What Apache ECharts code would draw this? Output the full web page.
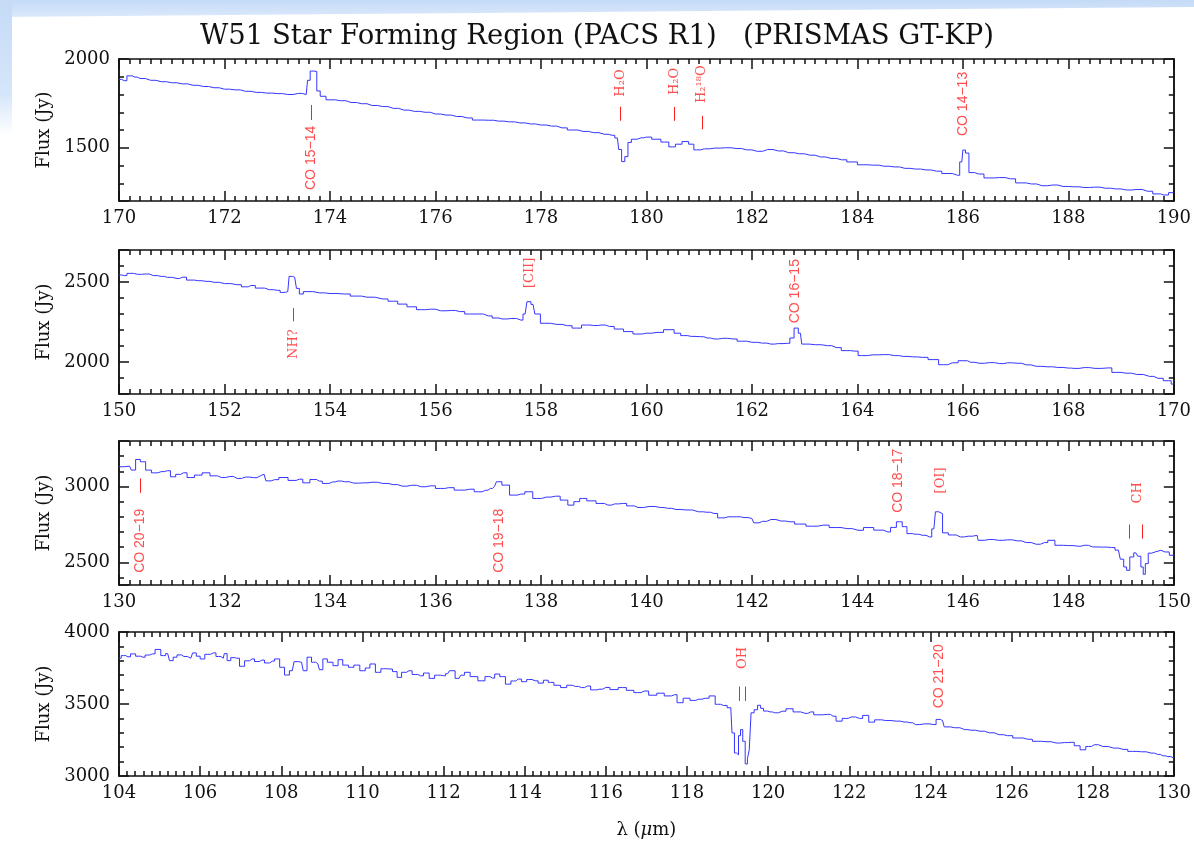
<!DOCTYPE html>
<html><head><meta charset="utf-8">
<script src="https://cdn.jsdelivr.net/npm/echarts@6/dist/echarts.min.js"></script>
<style>
html,body{margin:0;padding:0;background:#fff;}
#wrap{position:relative;width:1194px;height:849px;overflow:hidden;background:#fff;}
#topband{position:absolute;left:0;top:0;width:1194px;height:17px;background:linear-gradient(to bottom,#c4daf6,#dbe9fb);clip-path:polygon(0 0,100% 0,100% 7px,0 17px);}
#leftband{position:absolute;left:0;top:0;width:12px;height:135px;background:linear-gradient(to bottom,#c4daf6 0%,#d6e6fa 70%,rgba(255,255,255,0) 100%);}
#chart{position:absolute;left:0;top:0;width:1194px;height:849px;}
</style></head><body>
<div id="wrap"><div id="topband"></div><div id="leftband"></div><div id="chart"></div></div>
<script>
// ---------------- DATA ----------------
const titleText = 'W51 Star Forming Region (PACS R1)   (PRISMAS GT-KP)';
const yName = 'Flux (Jy)';
const xName = 'λ ({i|μ}m)';

// Panel 1: 170-190 um
const spec1 = [[170.0,1885],[170.1,1878],[170.2,1905],[170.3,1898],[170.4,1890],[170.6,1880],[170.8,1872],[171.0,1866],[171.2,1860],[171.4,1852],[171.6,1845],[171.8,1838],[172.0,1830],[172.2,1826],[172.4,1818],[172.6,1812],[172.8,1808],[173.0,1805],[173.2,1800],[173.4,1806],[173.55,1800],[173.6,1880],[173.65,1932],[173.72,1930],[173.78,1820],[173.85,1790],[174.0,1770],[174.2,1765],[174.4,1755],[174.6,1748],[174.8,1738],[175.0,1732],[175.2,1722],[175.4,1712],[175.6,1705],[175.8,1700],[176.0,1690],[176.2,1684],[176.4,1676],[176.6,1668],[176.8,1656],[177.0,1655],[177.2,1650],[177.4,1646],[177.6,1640],[177.8,1634],[178.0,1628],[178.2,1622],[178.4,1612],[178.6,1600],[178.8,1592],[179.0,1585],[179.2,1576],[179.35,1570],[179.45,1555],[179.5,1490],[179.56,1422],[179.62,1450],[179.68,1530],[179.75,1548],[179.9,1556],[180.0,1560],[180.2,1548],[180.35,1532],[180.5,1505],[180.6,1520],[180.75,1535],[180.85,1520],[180.95,1488],[181.1,1494],[181.3,1498],[181.5,1500],[181.7,1496],[181.9,1488],[182.1,1480],[182.3,1490],[182.5,1482],[182.7,1472],[182.9,1466],[183.1,1458],[183.3,1448],[183.5,1440],[183.7,1432],[183.9,1420],[184.1,1404],[184.3,1402],[184.5,1396],[184.7,1392],[184.9,1384],[185.1,1380],[185.3,1375],[185.5,1368],[185.7,1355],[185.9,1345],[185.98,1420],[186.02,1487],[186.08,1470],[186.15,1360],[186.3,1352],[186.5,1330],[186.7,1332],[186.9,1325],[187.1,1302],[187.3,1296],[187.5,1286],[187.7,1290],[187.9,1282],[188.1,1280],[188.3,1276],[188.5,1278],[188.7,1272],[188.9,1268],[189.1,1262],[189.3,1265],[189.5,1255],[189.7,1240],[189.8,1234],[190.0,1247]];

// Panel 2: 150-170 um
const spec2 = [[150.0,2544],[150.1,2540],[150.2,2554],[150.35,2548],[150.5,2550],[150.65,2540],[150.8,2535],[150.92,2529],[151.1,2522],[151.2,2530],[151.36,2512],[151.5,2508],[151.65,2504],[151.8,2498],[152.0,2490],[152.24,2483],[152.4,2470],[152.5,2478],[152.67,2462],[152.85,2452],[153.0,2448],[153.11,2435],[153.2,2440],[153.25,2535],[153.33,2530],[153.4,2460],[153.44,2425],[153.55,2440],[153.8,2432],[154.0,2428],[154.27,2425],[154.5,2412],[154.7,2405],[155.0,2394],[155.2,2380],[155.37,2362],[155.55,2345],[155.73,2327],[155.9,2330],[156.1,2320],[156.3,2322],[156.46,2315],[156.65,2300],[156.82,2300],[157.0,2288],[157.15,2275],[157.26,2269],[157.45,2272],[157.62,2262],[157.7,2300],[157.77,2377],[157.85,2360],[157.92,2300],[158.06,2242],[158.3,2235],[158.5,2227],[158.68,2212],[158.86,2231],[159.0,2228],[159.14,2231],[159.3,2222],[159.48,2206],[159.65,2190],[159.84,2175],[160.0,2180],[160.2,2185],[160.45,2202],[160.6,2180],[160.7,2165],[160.85,2160],[161.03,2158],[161.15,2150],[161.28,2144],[161.45,2148],[161.64,2144],[161.8,2130],[162.0,2123],[162.2,2118],[162.36,2112],[162.5,2115],[162.68,2117],[162.76,2150],[162.84,2212],[162.92,2180],[162.97,2112],[163.2,2108],[163.43,2102],[163.6,2090],[163.79,2071],[163.95,2068],[164.08,2040],[164.3,2045],[164.51,2046],[164.7,2040],[164.87,2035],[165.05,2032],[165.23,2029],[165.45,2015],[165.63,1983],[165.8,1995],[166.02,2008],[166.15,1998],[166.31,1992],[166.5,1996],[166.7,1990],[166.85,1995],[167.03,1992],[167.2,1982],[167.39,1973],[167.6,1970],[167.8,1966],[168.0,1962],[168.11,1960],[168.3,1965],[168.5,1960],[168.75,1963],[168.9,1935],[169.1,1930],[169.3,1922],[169.54,1910],[169.7,1898],[169.9,1883],[170.0,1862]];

// Panel 3: 130-150 um
const spec3 = [[130.0,3130],[130.2,3134],[130.27,3108],[130.36,3178],[130.45,3163],[130.56,3108],[130.67,3090],[130.8,3098],[130.92,3104],[131.03,3064],[131.12,3080],[131.22,3090],[131.36,3059],[131.5,3075],[131.65,3090],[131.8,3070],[131.94,3059],[132.1,3066],[132.24,3053],[132.4,3062],[132.55,3058],[132.68,3070],[132.75,3081],[132.82,3037],[132.95,3045],[133.11,3059],[133.3,3040],[133.42,3048],[133.55,3024],[133.69,3046],[133.8,3035],[133.91,3020],[134.05,3030],[134.15,3036],[134.28,3031],[134.45,3022],[134.64,3024],[134.8,3028],[135.0,3020],[135.2,3012],[135.37,3002],[135.55,3008],[135.73,2998],[135.9,3004],[136.1,2987],[136.25,2992],[136.46,2976],[136.65,2982],[136.82,2965],[136.95,2975],[137.04,2987],[137.12,3000],[137.19,3031],[137.33,3009],[137.48,2943],[137.62,2950],[137.77,2965],[137.92,2921],[138.1,2930],[138.28,2936],[138.45,2910],[138.57,2877],[138.68,2900],[138.79,2921],[138.95,2905],[139.14,2888],[139.27,2877],[139.4,2885],[139.55,2888],[139.7,2872],[139.84,2861],[140.05,2868],[140.27,2861],[140.4,2856],[140.56,2848],[140.75,2845],[140.99,2833],[141.15,2830],[141.28,2822],[141.42,2793],[141.55,2800],[141.71,2800],[141.85,2795],[142.0,2789],[142.07,2760],[142.2,2770],[142.36,2782],[142.55,2772],[142.72,2767],[142.9,2752],[143.15,2738],[143.35,2745],[143.58,2729],[143.8,2722],[144.01,2711],[144.22,2729],[144.4,2712],[144.58,2700],[144.68,2730],[144.8,2767],[144.9,2735],[144.98,2689],[145.1,2685],[145.23,2678],[145.37,2667],[145.45,2720],[145.51,2833],[145.58,2820],[145.65,2694],[145.8,2680],[145.95,2667],[146.1,2672],[146.27,2678],[146.31,2645],[146.5,2650],[146.67,2645],[146.85,2648],[147.03,2641],[147.2,2630],[147.39,2619],[147.55,2630],[147.67,2645],[147.82,2612],[148.0,2610],[148.18,2606],[148.3,2612],[148.46,2601],[148.65,2600],[148.82,2597],[148.95,2580],[149.02,2520],[149.08,2469],[149.13,2447],[149.2,2535],[149.28,2562],[149.35,2540],[149.4,2469],[149.44,2421],[149.48,2491],[149.55,2560],[149.61,2568],[149.68,2579],[149.83,2568],[150.0,2546]];

// Panel 4: 104-130 um
const spec4 = [[104.0,3818],[104.11,3836],[104.22,3828],[104.35,3848],[104.47,3832],[104.59,3825],[104.7,3840],[104.82,3848],[104.96,3879],[105.1,3836],[105.2,3850],[105.29,3801],[105.38,3825],[105.48,3841],[105.6,3830],[105.77,3818],[105.86,3855],[105.95,3832],[106.05,3813],[106.18,3845],[106.33,3855],[106.45,3830],[106.57,3818],[106.62,3850],[106.71,3801],[106.8,3822],[106.9,3818],[107.04,3762],[107.15,3800],[107.28,3813],[107.4,3795],[107.52,3805],[107.65,3785],[107.78,3798],[107.89,3813],[108.03,3755],[108.13,3701],[108.27,3731],[108.36,3794],[108.5,3790],[108.58,3731],[108.69,3825],[108.8,3790],[108.9,3780],[108.98,3738],[109.07,3813],[109.2,3790],[109.35,3766],[109.45,3808],[109.58,3770],[109.73,3755],[109.85,3770],[110.02,3731],[110.12,3750],[110.25,3778],[110.39,3720],[110.52,3745],[110.68,3743],[110.8,3725],[110.91,3685],[111.02,3720],[111.15,3731],[111.3,3705],[111.43,3696],[111.58,3715],[111.71,3678],[111.85,3700],[112.0,3696],[112.1,3710],[112.19,3731],[112.38,3678],[112.47,3700],[112.56,3720],[112.75,3690],[112.94,3661],[113.1,3690],[113.2,3680],[113.32,3708],[113.45,3690],[113.6,3638],[113.72,3660],[113.84,3673],[114.0,3655],[114.1,3670],[114.26,3661],[114.4,3645],[114.52,3665],[114.64,3650],[114.8,3630],[114.97,3614],[115.1,3630],[115.25,3622],[115.4,3614],[115.55,3625],[115.7,3598],[115.85,3603],[116.0,3615],[116.2,3600],[116.41,3614],[116.6,3595],[116.78,3579],[116.95,3590],[117.16,3561],[117.35,3575],[117.53,3556],[117.7,3565],[117.81,3509],[118.0,3540],[118.15,3525],[118.28,3533],[118.45,3540],[118.64,3556],[118.75,3498],[118.9,3490],[119.08,3474],[119.14,3299],[119.2,3160],[119.24,3147],[119.3,3280],[119.34,3322],[119.41,3241],[119.46,3084],[119.52,3120],[119.55,3182],[119.61,3439],[119.7,3460],[119.78,3491],[119.85,3470],[119.92,3451],[120.05,3445],[120.16,3439],[120.35,3450],[120.53,3467],[120.7,3445],[120.91,3435],[121.05,3445],[121.2,3425],[121.47,3428],[121.6,3415],[121.75,3381],[121.9,3400],[122.05,3410],[122.25,3400],[122.41,3421],[122.55,3374],[122.7,3390],[122.9,3385],[123.16,3381],[123.35,3375],[123.5,3370],[123.63,3357],[123.85,3362],[124.09,3357],[124.19,3393],[124.3,3385],[124.38,3341],[124.6,3335],[124.85,3322],[125.0,3318],[125.22,3311],[125.45,3300],[125.69,3287],[125.9,3280],[126.16,3264],[126.4,3255],[126.63,3241],[126.85,3238],[127.1,3229],[127.3,3232],[127.47,3234],[127.62,3210],[127.76,3182],[127.9,3205],[128.04,3217],[128.25,3205],[128.51,3194],[128.75,3185],[128.98,3171],[129.2,3168],[129.44,3159],[129.6,3150],[129.73,3140],[129.85,3135],[130.0,3124]];

// axis ranges and tick steps
const xRange1 = [170, 190], yRange1 = [1200, 2000];
const xRange2 = [150, 170], yRange2 = [1800, 2700];
const xRange3 = [130, 150], yRange3 = [2350, 3300];
const xRange4 = [104, 130], yRange4 = [3000, 4000];
const xMajorStep = 2, xMinorStep = 0.2;
const yMajorStep = 500, yMinorStep = 100;

// line identifications: [text, wavelength, flux at text start, font kind]
const labels1 = [['CO 15−14', 173.64, 1262, 'sans'], ['H₂O', 179.51, 1788, 'serif'], ['H₂O', 180.53, 1797, 'serif'], ['H₂¹⁸O', 181.05, 1752, 'serif'], ['CO 14−13', 186.0, 1566, 'sans']];
const labels2 = [['NH?', 153.31, 2019, 'serif'], ['[CII]', 157.79, 2462, 'serif'], ['CO 16−15', 162.82, 2242, 'sans']];
const labels3 = [['CO 20−19', 130.4, 2430, 'sans'], ['CO 19−18', 137.2, 2430, 'sans'], ['CO 18−17', 144.78, 2826, 'sans'], ['[OI]', 145.57, 2954, 'serif'], ['CH', 149.31, 2888, 'serif']];
const labels4 = [['OH', 119.38, 3743, 'serif'], ['CO 21−20', 124.22, 3470, 'sans']];
// marker dashes: [wavelength, flux from, flux to]
const marks1 = [[173.64, 1656, 1741], [179.51, 1652, 1731], [180.53, 1652, 1730], [181.05, 1604, 1680]];
const marks2 = [[153.31, 2254, 2337]];
const marks3 = [[130.4, 2958, 3053], [149.16, 2656, 2749], [149.41, 2656, 2749]];
const marks4 = [[119.29, 3521, 3621], [119.44, 3521, 3621]];

// ---------------- CHART ----------------
const SERIF = 'DejaVu Serif';
const SANS = 'Liberation Sans';
const INK = '#111';
const RED = '#ff1f1f';
const BLUE = '#3535ff';

const panels = [
  {spec: spec1, xr: xRange1, yr: yRange1, labels: labels1, marks: marks1, top: 59, height: 142},
  {spec: spec2, xr: xRange2, yr: yRange2, labels: labels2, marks: marks2, top: 250, height: 144},
  {spec: spec3, xr: xRange3, yr: yRange3, labels: labels3, marks: marks3, top: 441, height: 144},
  {spec: spec4, xr: xRange4, yr: yRange4, labels: labels4, marks: marks4, top: 632, height: 144}
];

const labelStyle = {color: INK, fontFamily: SERIF, fontSize: 18};
const grid = [], xAxis = [], yAxis = [], series = [];
panels.forEach((p, i) => {
  grid.push({left: 119, width: 1055, top: p.top, height: p.height});
  // axes in the configuration proven to draw visible inward ticks: one x axis each at bottom and top with minor ticks,
  // one y axis each at left and right (min/max + min/maxInterval so the ticks fall on round values)
  const mkX = (pos, withLabel) => {
    const a = {
      type: 'value', gridIndex: i, position: pos, min: p.xr[0], max: p.xr[1], interval: xMajorStep,
      splitLine: {show: false}, minorSplitLine: {show: false},
      axisLine: {show: true, onZero: false, lineStyle: {color: INK, width: 1.5}},
      axisTick: {show: true, inside: true, length: 10, lineStyle: {color: INK, width: 1.5}},
      minorTick: {show: true, splitNumber: Math.round(xMajorStep / xMinorStep), length: 5, lineStyle: {color: INK, width: 1.5}},
      axisLabel: withLabel ? Object.assign({show: true, margin: 8, showMinLabel: true, showMaxLabel: true, hideOverlap: false}, labelStyle) : {show: false}
    };
    return a;
  };
  const bx = mkX('bottom', true);
  if (i === 3) {
    bx.name = xName; bx.nameLocation = 'middle'; bx.nameGap = 45;
    bx.nameTextStyle = Object.assign({rich: {i: Object.assign({fontStyle: 'italic'}, labelStyle)}}, labelStyle);
  }
  xAxis.push(bx, mkX('top', false));
  const mkY = (pos, step, len, withLabel) => {
    const a = {
      type: 'value', gridIndex: i, position: pos, min: p.yr[0], max: p.yr[1],
      minInterval: step, maxInterval: step, splitNumber: 2,
      splitLine: {show: false},
      axisLine: {show: true, onZero: false, lineStyle: {color: INK, width: 1.5}},
      axisTick: {show: true, inside: true, length: len, lineStyle: {color: INK, width: 1.5}},
      axisLabel: withLabel ? Object.assign({show: true, margin: 9, showMinLabel: true, showMaxLabel: true, hideOverlap: false,
        formatter: v => (Math.abs(v % yMajorStep) < 1e-6 ? String(v) : '')}, labelStyle) : {show: false}
    };
    return a;
  };
  const ly = mkY('left', yMajorStep, 10, true);
  ly.name = yName; ly.nameLocation = 'middle'; ly.nameGap = 62; ly.nameRotate = 90;
  ly.nameTextStyle = Object.assign({}, labelStyle);
  const lyMinor = mkY('left', yMinorStep, 5, false);
  const ry = mkY('right', yMajorStep, 10, false);
  const ryMinor = mkY('right', yMinorStep, 5, false);
  yAxis.push(ly, lyMinor, ry, ryMinor);

  series.push({
    type: 'line', xAxisIndex: 2 * i, yAxisIndex: 4 * i, data: p.spec, step: 'middle',
    showSymbol: false, symbol: 'none', silent: true, animation: false,
    lineStyle: {color: BLUE, width: 1}, z: 3
  });
  series.push({
    type: 'scatter', xAxisIndex: 2 * i, yAxisIndex: 4 * i, symbolSize: 0, silent: true, animation: false, z: 4,
    data: p.labels.map(l => ({name: l[0], value: [l[1], l[2]],
      label: {fontFamily: l[3] === 'sans' ? SANS : SERIF, fontSize: l[3] === 'sans' ? 14 : 13}})),
    label: {show: true, formatter: '{b}', rotate: 90, position: [0, 0], align: 'left', verticalAlign: 'middle', color: RED},
    markLine: {
      silent: true, animation: false, symbol: ['none', 'none'], label: {show: false},
      lineStyle: {color: RED, width: 1, type: 'solid'},
      data: p.marks.map(m => [{coord: [m[0], m[1]]}, {coord: [m[0], m[2]]}])
    }
  });
});

const chart = echarts.init(document.getElementById('chart'));
chart.setOption({
  animation: false,
  title: {text: titleText, left: 'center', top: 18, textStyle: {fontFamily: SERIF, fontSize: 27.5, fontWeight: 'normal', color: INK}},
  grid, xAxis, yAxis, series
});
</script></body></html>
